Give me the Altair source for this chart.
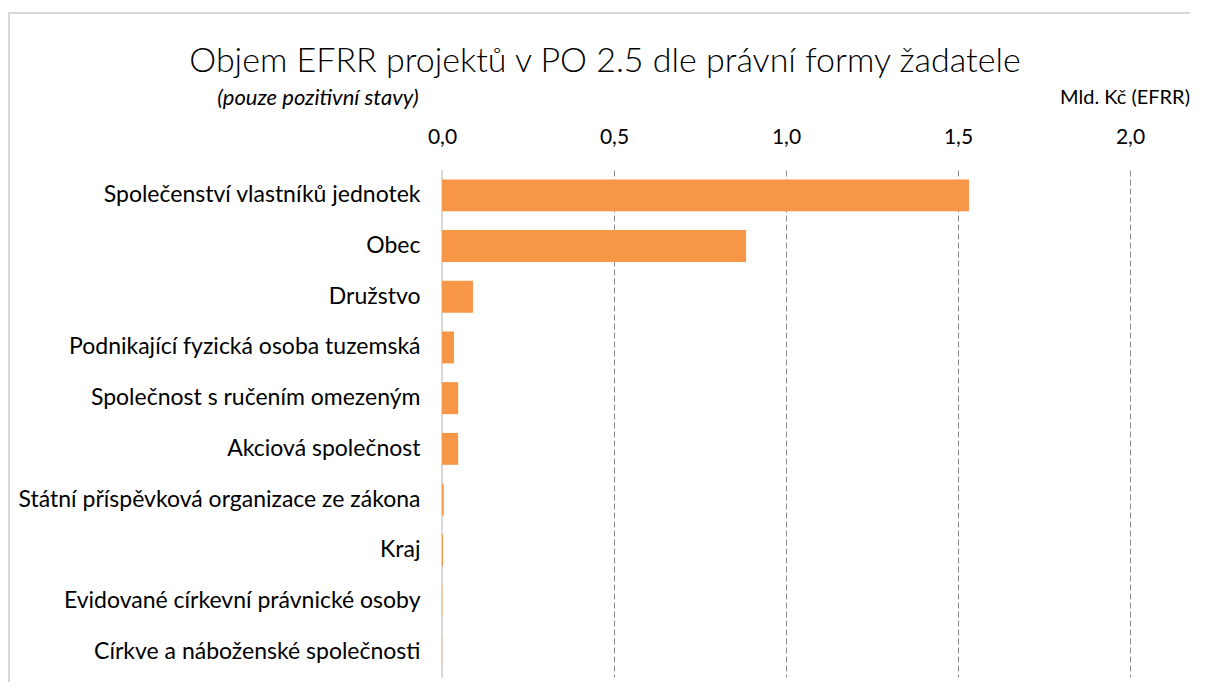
import altair as alt
import pandas as pd

categories = [
    "Společenství vlastníků jednotek",
    "Obec",
    "Družstvo",
    "Podnikající fyzická osoba tuzemská",
    "Společnost s ručením omezeným",
    "Akciová společnost",
    "Státní příspěvková organizace ze zákona",
    "Kraj",
    "Evidované církevní právnické osoby",
    "Církve a náboženské společnosti",
]
values = [1.532, 0.884, 0.090, 0.035, 0.047, 0.047, 0.005, 0.003, 0.001, 0.0005]
x_ticks = [0.0, 0.5, 1.0, 1.5, 2.0]
title_text = ["Objem EFRR projektů v PO 2.5 dle právní formy žadatele"]
subtitle_text = ["(pouze pozitivní stavy)"]
unit_text = ["Mld. Kč (EFRR)"]

FONT = "Lato"

df = pd.DataFrame({"forma": categories, "objem": values})
one = pd.DataFrame({"a": [0]})

border_left = alt.Chart(one).mark_rule(color="#D9D9D9", strokeWidth=2).encode(
    x=alt.value(-433), y=alt.value(-158), y2=alt.value(520)
)
border_top = alt.Chart(one).mark_rule(color="#D9D9D9", strokeWidth=2).encode(
    x=alt.value(-434), x2=alt.value(800), y=alt.value(-157)
)
zero_rule = alt.Chart(one).mark_rule(color="#D9D9D9", strokeWidth=2).encode(
    x=alt.X("a:Q", scale=alt.Scale(domain=[0, 2], nice=False))
)

bars = alt.Chart(df).mark_bar(color="#F79646").encode(
    x=alt.X(
        "objem:Q",
        scale=alt.Scale(domain=[0, 2], nice=False),
        axis=alt.Axis(
            orient="top",
            values=x_ticks,
            title=None,
            domain=False,
            ticks=False,
            labelFlush=False,
            labelExpr="replace(format(datum.value, '.1f'), '.', ',')",
            labelPadding=23,
            labelFontSize=21,
            labelFont=FONT,
            labelColor="#000000",
            grid=True,
            gridDash=[6, 3],
            gridColor="#8C8C8C",
            gridWidth=1,
        ),
    ),
    y=alt.Y(
        "forma:N",
        sort=categories,
        scale=alt.Scale(paddingInner=0.37, paddingOuter=0.185),
        axis=alt.Axis(
            title=None,
            domain=False,
            ticks=False,
            labelPadding=22,
            labelFontSize=23,
            labelFont=FONT,
            labelColor="#000000",
            labelLimit=600,
        ),
    ),
)

title = alt.Chart(pd.DataFrame({"t": title_text})).mark_text(
    font=FONT, fontSize=34, fontWeight=300, color="#000000", align="center", baseline="middle"
).encode(text="t:N", x=alt.value(163), y=alt.value(-108))

subtitle = alt.Chart(pd.DataFrame({"t": subtitle_text})).mark_text(
    font=FONT, fontSize=22, fontStyle="italic", color="#000000", align="center", baseline="middle"
).encode(text="t:N", x=alt.value(-124), y=alt.value(-72))

unit = alt.Chart(pd.DataFrame({"t": unit_text})).mark_text(
    font=FONT, fontSize=20, color="#000000", align="right", baseline="middle"
).encode(text="t:N", x=alt.value(748), y=alt.value(-72))

chart = (
    alt.layer(border_left, border_top, zero_rule, bars, title, subtitle, unit)
    .properties(
        width=688,
        height=507,
        autosize=alt.AutoSizeParams(type="none"),
        padding={"left": 434, "top": 162, "right": 60, "bottom": 5},
        background="white",
    )
    .configure_view(stroke=None)
)

chart.save("out.html", embed_options={"renderer": "svg", "actions": False})
